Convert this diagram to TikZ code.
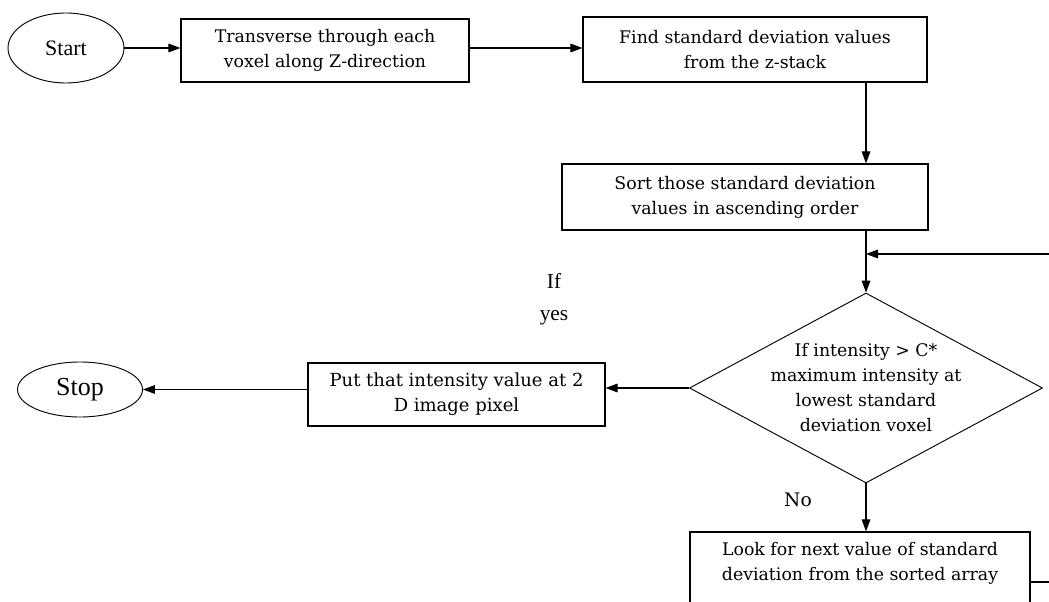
\documentclass[tikz,border=0pt]{standalone}
\usepackage{fontspec}
\setmainfont{DejaVu Serif}
\newfontfamily\timesfont{Liberation Serif}
\usetikzlibrary{shapes.geometric,arrows.meta}

\tikzset{
  >={Triangle[length=9pt,width=6.5pt]},
  process/.style={draw, rectangle, line width=0.9pt, inner sep=0pt, align=center,
    font=\fontsize{13}{18.75}\selectfont},
  terminal/.style={draw, ellipse, line width=0.7pt, inner sep=0pt, font=\timesfont},
  decision/.style={draw, diamond, line width=0.7pt, inner sep=0pt},
  flow/.style={->, line width=0.8pt},
}

\begin{document}
\begin{tikzpicture}[x=0.75pt, y=-0.75pt]
        % Page frame (pixel grid of the figure)
        \clip (0,0) rectangle (1049,602);
        
        % Top row
        \node[terminal, minimum width=87pt, minimum height=52.5pt, font=\timesfont\fontsize{16.5}{18}\selectfont] (start) at (66,48) {Start};
        \node[process, minimum width=216pt, minimum height=47.25pt] (voxel) at (325,50.5) {Transverse through each\\voxel along Z-direction};
        \node[process, minimum width=258pt, minimum height=48.75pt] (stddev) at (755,49.5) {Find standard deviation values\\from the z-stack};
        
        % Sorting and test
        \node[process, minimum width=274.5pt, minimum height=49.5pt] (sort) at (745,197) {Sort those standard deviation\\values in ascending order};
        \node[decision, minimum width=264.75pt, minimum height=142.5pt] (test) at (866,388) {};
        \node[align=center, font=\fontsize{13}{18.75}\selectfont] (testtxt) at (test) {If intensity > C*\\maximum intensity at\\lowest standard\\deviation voxel};
        
        % Yes branch
        \node[process, minimum width=222.75pt, minimum height=47.25pt, font=\fontsize{13.5}{18.75}\selectfont] (put) at (456.5,394.5) {Put that intensity value at 2\\D image pixel};
        \node[terminal, minimum width=93.75pt, minimum height=41.25pt, font=\timesfont\fontsize{19.5}{21}\selectfont] (stop) at (80,389.5) {Stop};
        \node[align=center, font=\timesfont\fontsize{16}{24}\selectfont] (ifyes) at (554,299) {If\\yes};
        
        % No branch
        \node[process, minimum width=255pt, minimum height=69pt] (next) at (860,578) {Look for next value of standard\\deviation from the sorted array\\\strut};
        \node[font=\fontsize{14}{16}\selectfont] (no) at (798,500) {No};
        
        % Loop back (runs off the right edge)
        \coordinate (loopa) at (1062,582);
        \coordinate (loopb) at (1062,254);
        
        % Arrows
        \draw[flow] (start.east) -- (start.east -| voxel.west);
        \draw[flow] (voxel.east |- start.east) -- (stddev.west |- start.east);
        \draw[flow] (stddev.south -| test.north) -- (sort.north -| test.north);
        \draw[flow] (sort.south -| test.north) -- (test.north);
        \draw[flow] (test.west) -- (test.west -| put.east);
        \draw[flow] (stop.east -| put.west) -- (stop.east);
        \draw[flow] (test.south) -- (next.north -| test.south);
        \draw[flow] (next.east |- loopa) -- (loopa) -- (loopb) -- (loopb -| test.north);
        
\end{tikzpicture}
\end{document}
